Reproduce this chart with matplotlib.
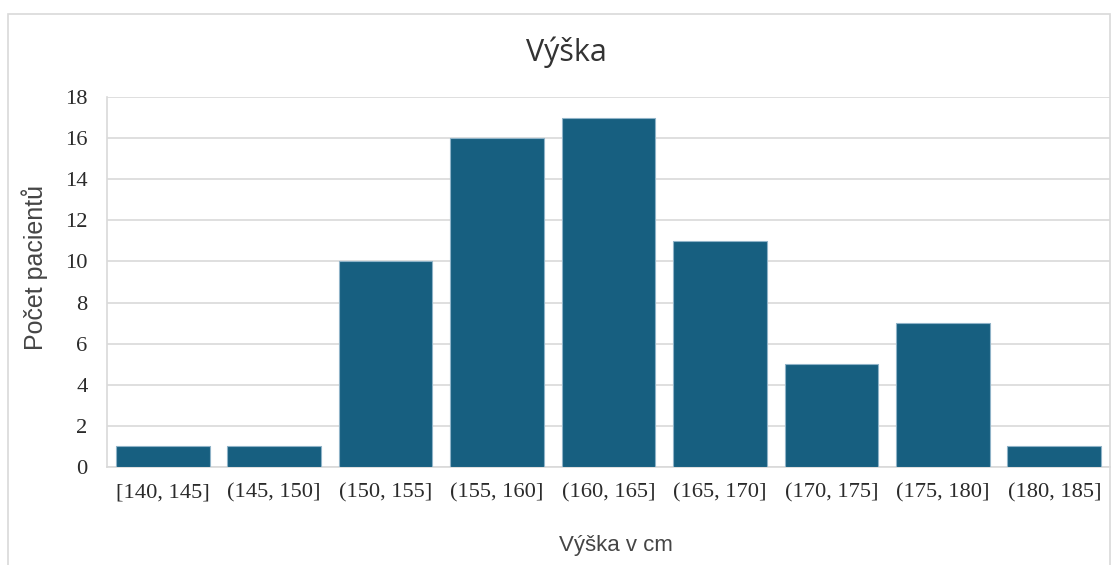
import numpy as np
import matplotlib.pyplot as plt
from matplotlib.patches import Rectangle

kategorie = ['[140, 145]', '(145, 150]', '(150, 155]', '(155, 160]', '(160, 165]',
             '(165, 170]', '(170, 175]', '(175, 180]', '(180, 185]']
pocty = [1, 1, 10, 16, 17, 11, 5, 7, 1]

fig = plt.figure(figsize=(11.12, 5.65), dpi=100)
ax = fig.add_axes([107/1112, 1-467/565, (1110-107)/1112, (467-97)/565])

x = np.arange(len(kategorie))
ax.bar(x, pocty, width=0.84, color='#175f80', edgecolor='#8fb3c8', linewidth=0.8, zorder=3)

ax.set_xlim(-0.5, len(kategorie)-0.5)
ax.set_ylim(0, 18)
ax.set_yticks(range(0, 19, 2))
ax.set_xticks(x)
ax.set_xticklabels(kategorie, fontfamily='Liberation Serif', fontsize=16.2, color='#2b2b2b')
for lab in ax.get_yticklabels():
    lab.set_fontfamily('Liberation Serif')
    lab.set_fontsize(16.2)
    lab.set_color('#2b2b2b')
ax.tick_params(axis='both', length=0)
ax.tick_params(axis='x', pad=12)
ax.tick_params(axis='y', pad=14)
ax.grid(axis='y', color='#d9d9d9', linewidth=1.2, zorder=0)
for s in ['top', 'right']:
    ax.spines[s].set_visible(False)
for s in ['left', 'bottom']:
    ax.spines[s].set_color('#d9d9d9')
    ax.spines[s].set_linewidth(1.2)

fig.text(566/1112, 1-52/565, 'Výška', ha='center', va='center', fontsize=22,
         fontfamily='Open Sans', color='#333333')
fig.text(616/1112, 1-546/565, 'Výška v cm', ha='center', va='center', fontsize=16,
         fontfamily='Liberation Sans', color='#454545')
fig.text(35/1112, 1-267/565, 'Počet pacientů', ha='center', va='center', fontsize=18,
         fontfamily='Liberation Sans', color='#454545', rotation=90)

fig.patches.append(Rectangle((8/1112, -0.01), (1110-8)/1112, 1-14/565+0.01,
                             transform=fig.transFigure, fill=False,
                             edgecolor='#d9d9d9', linewidth=1.2))

plt.savefig('out.png', dpi=100)
